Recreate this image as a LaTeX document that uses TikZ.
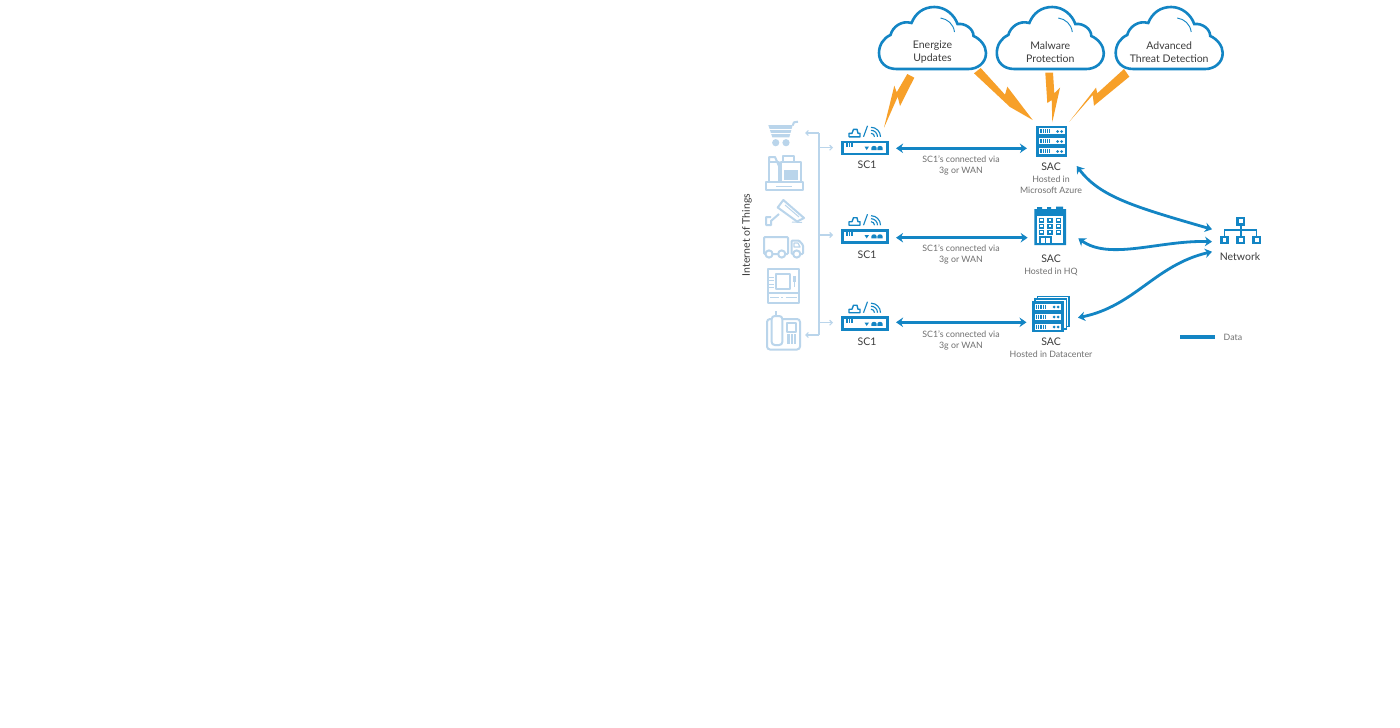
\documentclass[tikz,border=0pt]{standalone}
\usepackage{fontspec}
\setmainfont{Lato}
\usetikzlibrary{arrows.meta,calc}
\definecolor{scblue}{HTML}{1385C4}
\definecolor{iotblue}{HTML}{BAD5EB}
\definecolor{boltorange}{HTML}{F7A029}
\definecolor{labeldark}{HTML}{3C3C3C}
\definecolor{labelgrey}{HTML}{707070}
\tikzset{
	mainlabel/.style={text=labeldark, align=center, inner sep=0pt, font=\fontsize{10.5}{13.5}\selectfont},
	sublabel/.style={text=labelgrey, align=center, inner sep=0pt, font=\fontsize{8.8}{11}\selectfont},
	bolt/.style={fill=boltorange, draw=none},
	datalink/.style={draw=scblue, line width=2.8pt, {Stealth[length=7pt,width=9.5pt]}-{Stealth[length=7pt,width=9.5pt]}},
	iotline/.style={draw=iotblue, line width=2pt, line join=round},
	iotlink/.style={draw=iotblue, line width=1.2pt, -{Straight Barb[length=2.5pt,width=5pt]}},
	pics/cloudicon/.style={code={
		\draw[scblue, line width=2.6pt, fill=white] (-36,31) .. controls (-47,31) and (-53.5,24) .. (-53.5,15)
			.. controls (-53.5,7) and (-49,0) .. (-42,-3) .. controls (-40,-11) and (-31,-18) .. (-21,-15)
			.. controls (-17,-25) and (-9,-31) .. (2,-31) .. controls (13,-31) and (22,-23) .. (25,-14)
			.. controls (33,-15) and (41,-9) .. (41,-2) .. controls (48,1) and (53.5,8) .. (53.5,15)
			.. controls (53.5,25) and (45,31) .. (36,31) -- cycle;
		\draw[scblue, line width=.9pt] (8,-20) .. controls (15,-19) and (21,-14) .. (22,-6);
	}},
	pics/routericon/.style={code={
		\node[draw=scblue, line width=2.6pt, minimum width=45.5pt, minimum height=12pt, inner sep=0pt] (-body) at (0,0) {};
		% antenna bars and status lights
		\foreach \barx in {-18,-15.5,-13} \draw[scblue, line width=1.1pt] (\barx,-6) -- (\barx,-.5);
		\fill[scblue] (-.5,-1.2) -- (4,-1.2) -- (1.7,2.2) -- cycle;
		\foreach \domex in {9,15} \fill[scblue] (\domex-2.7,2.2) -- (\domex-2.7,.3) arc (180:0:2.7pt and 2.2pt) -- (\domex+2.7,2.2) -- cycle;
		% small icons above the box
		\draw[scblue, line width=1.4pt, line join=round] (-16,-11) -- (-16,-14.5) -- (-13,-14.5) -- (-11.5,-18.5) -- (-8,-18.5) -- (-7,-14.5) -- (-5,-14.5) -- (-5,-11) -- cycle;
		\draw[scblue, line width=1.1pt] (-1.5,-11) -- (2.5,-22);
		\foreach \wifir in {3.5,6.5,9.5} \draw[scblue, line width=1.1pt] (6,{-\wifir-11}) arc (90:0:\wifir pt);
	}},
	pics/racklayer/.style={code={
		\fill[white] (-13,-3) rectangle (13,3);
		\foreach \slotx in {-11.5,-9.7,-7.9,-6.1,-4.3,-2.5} \draw[scblue, line width=.9pt] (\slotx,-2) -- (\slotx,2);
		\foreach \lightx in {6,10} \fill[scblue] (\lightx,.5) circle (1.5pt);
	}},
	pics/rackicon/.style={code={
		\fill[scblue] (-15.7,-15.5) rectangle (15.7,15.5);
		\foreach \rowy in {-10,0,10} \pic at (0,\rowy) {racklayer};
	}},
	netbox/.style={draw=scblue, line width=2.6pt, minimum size=6.3pt, inner sep=0pt}
}
\begin{document}
\begin{tikzpicture}[x=1pt, y=-1pt]
	\useasboundingbox[fill=white] (0,0) rectangle (1400,728);

	% clouds
	\foreach \cloudx/\cloudname/\cloudtext in {932.5/energize/{Energize\\Updates}, 1050.3/malware/{Malware\\Protection}, 1169.2/threat/{Advanced\\Threat Detection}} {
		\pic at (\cloudx,38) {cloudicon};
		\node[mainlabel] (\cloudname) at (\cloudx,52) {\cloudtext};
	}

	% bolts
	\fill[bolt] (907.3,74) -- (914.3,77.7) -- (900,106) -- (897.7,96.7) -- (884,127.7) -- (894.3,85.7) -- (896.7,92.3) -- cycle;
	\fill[bolt] (974,73.3) -- (1010,107) -- (1032.7,120) -- (1007.3,86.7) -- (1005,94.7) -- (980.7,68) -- cycle;
	\fill[bolt] (1045.3,72.7) -- (1053,72.7) -- (1054.3,93.3) -- (1060,87.7) -- (1052.3,122.3) -- (1051.7,100) -- (1047.3,103) -- cycle;
	\fill[bolt] (1124,69) -- (1129.3,76.7) -- (1094,105.7) -- (1092.7,95) -- (1069.3,121.7) -- (1096,87.7) -- (1097.3,93.3) -- cycle;

	% the three rows
	\foreach \rowname/\rowy/\labely in {a/147.8/165, b/236.2/255, c/323.7/342} {
		\pic (sc1\rowname) at (865,\rowy) {routericon};
		\node[mainlabel] (sc1label\rowname) at (867,\labely) {SC1};
	}
	\foreach \rowname/\texty in {a/165.5, b/254.5, c/340.5} {
		\node[sublabel] (via\rowname) at (961,\texty) {SC1’s connected via\\3g or WAN};
	}

	% servers
	\pic at (1051.5,141) {rackicon};
	\node[minimum width=31.4pt, minimum height=31pt, inner sep=0pt] (saca) at (1051.5,141) {};
	\node[mainlabel] (saclabela) at (1051,167) {SAC};
	\node[sublabel] (hosta) at (1051,184.5) {Hosted in\\Microsoft Azure};

	% building
	\node[minimum width=31.7pt, minimum height=36pt, inner sep=0pt] (sacb) at (1050.2,227) {};
	\fill[scblue] (1034.3,209) -- (1037,209) -- (1037,207) -- (1042,207) -- (1042,209) -- (1047,209) -- (1047,207) -- (1051,207) -- (1051,209) -- (1056,209) -- (1056,206.5) -- (1063,206.5) -- (1063,209) -- (1066,209) -- (1066,245) -- (1034.3,245) -- cycle;
	\fill[white] (1037,216) rectangle (1063.3,242.6);
	\foreach \winx in {1041.7,1050,1058.3} \foreach \winy in {220,226,232}
		\draw[scblue, line width=1.4pt] (\winx-2,\winy-1.8) rectangle (\winx+2,\winy+1.8);
	\draw[scblue, line width=1.4pt] (1040,243) -- (1040,237) -- (1051,237) -- (1051,243) (1045.5,237) -- (1045.5,243);
	\node[mainlabel] (saclabelb) at (1051,259) {SAC};
	\node[sublabel] (hostb) at (1051,271.5) {Hosted in HQ};

	% stacked servers
	\draw[scblue, line width=1.1pt, fill=white] (1037.5,296.7) rectangle (1069,326.5);
	\draw[scblue, line width=1.1pt, fill=white] (1035,299) rectangle (1066.5,329);
	\pic at (1048,316.5) {rackicon};
	\node[minimum width=31.4pt, minimum height=31pt, inner sep=0pt] (sacc) at (1048,316.5) {};
	\node[mainlabel] (saclabelc) at (1051,342) {SAC};
	\node[sublabel] (hostc) at (1051,354) {Hosted in Datacenter};

	% links between SC1 and SAC
	\foreach \rowname/\liftby/\gapend in {a/-.5/8.7, b/-1.5/6.5, c/1.4/5.6} {
		\draw[datalink, shorten <=7pt, shorten >=\gapend pt] ([yshift=\liftby pt]sc1\rowname-body.east) -- ([yshift=\liftby pt]sc1\rowname-body.east -| sac\rowname.west);
	}

	% network
	\node[netbox] (nettop) at (1240.8,221.2) {};
	\node[netbox] (netleft) at (1224.5,240) {};
	\node[netbox] (netmid) at (1240.8,240) {};
	\node[netbox] (netright) at (1256.7,240) {};
	\draw[scblue, line width=1.5pt] (nettop) -- (netmid) (netleft) -- ++(0,-10) -| (netright);
	\node[mainlabel] (netlabel) at (1240,256.8) {Network};
	\coordinate (netina) at (1212,229.3);
	\coordinate (netinb) at (1212,241.7);
	\coordinate (netinc) at (1212,251.7);
	\coordinate (sacouta) at (1076.7,166);
	\coordinate (sacoutb) at (1078.3,238.3);
	\coordinate (sacoutc) at (1078,317.7);
	\draw[datalink] (sacouta) .. controls (1100,197) and (1135,207) .. (netina);
	\draw[datalink] (sacoutb) .. controls (1110,261) and (1160,240) .. (netinb);
	\draw[datalink] (sacoutc) .. controls (1135,306) and (1155,265) .. (netinc);

	% legend
	\coordinate (legendstart) at (1180,336.7);
	\node[sublabel, anchor=west] (legendtext) at (1223.5,337.5) {Data};
	\draw[scblue, line width=3.6pt] (legendstart) -- ++(35,0);

	% internet of things
	\node[mainlabel, rotate=90] (iotlabel) at (747,235) {Internet of Things};
	\coordinate (iottop) at (819,133);
	\coordinate (iotbottom) at (819,335);
	\coordinate (iotcart) at (805,133);
	\coordinate (iotphone) at (805,335);
	\draw[iotblue, line width=1.2pt] (iottop) -- (iotbottom);
	\draw[iotlink] (iottop) -- (iotcart);
	\draw[iotlink] (iotbottom) -- (iotphone);
	\foreach \rowname/\stuby in {a/147.7, b/235, c/322.7} {
		\coordinate (iotstub\rowname) at (819,\stuby);
		\draw[iotlink] (iotstub\rowname) -- (833,\stuby);
	}

	% cart
	\fill[iotblue] (768.3,125) -- (792.7,125) -- (789.3,137.3) -- (772.3,137.3) -- cycle;
	\draw[white, line width=1pt] (769,129) -- (792,129) (770,133) -- (791,133);
	\draw[iotline] (792.7,125.5) -- (794,122.3) -- (798,121.7);
	\fill[iotblue] (775.7,142.7) circle (3.6pt) (786,142.7) circle (3.6pt);
	% register
	\draw[iotline] (765.5,181.5) rectangle (803,190);
	\draw[iotline] (769,181) -- (769,162) -- (779,162) -- (779,181);
	\draw[iotline] (769,162) -- (769,157) -- (775,157) -- (779,166);
	\draw[iotline] (781,181) -- (781,162) -- (801,162) -- (801,181);
	\draw[iotline] (783,162) -- (783,155.5) -- (794,155.5) -- (794,162);
	\fill[iotblue] (783.5,170) rectangle (798,180);
	\draw[iotline, line width=1pt] (776,186) -- (792,186);
	% camera
	\draw[iotline] (783.3,200) -- (804,218) -- (797,221.5) -- (777.7,207.5) -- cycle;
	\draw[iotline, line width=1pt] (785,205) -- (799,217);
	\draw[iotline] (771,217) -- (766,217) -- (766,225) -- (771,225) -- (771,221) -- (779,214);
	\draw[iotline, line width=1pt] (792,222) -- (802,222.5);
	% truck
	\draw[iotline, rounded corners=1pt] (764,254) -- (764,237) -- (788,237) -- (788,254) -- cycle;
	\draw[iotline, rounded corners=1pt] (791.5,254) -- (791.5,240.5) -- (799,240.5) -- (803,245) -- (803,254) -- cycle;
	\draw[iotline, line width=1.2pt] (794,243) -- (798,243) -- (800,247) -- (794,247) -- cycle;
	\foreach \wheelx in {769,781.7,796.7} \draw[iotline, fill=white] (\wheelx,254) circle (3.6pt);
	% atm
	\draw[iotline] (767.7,269.3) rectangle (799,302.7);
	\draw[iotline] (775.7,274) rectangle (790,289.3);
	\fill[iotblue] (792.5,276) rectangle (796,282);
	\draw[iotline, line width=1pt] (794,282) -- (794,287);
	\foreach \bary in {277,280.5,284,287.5} \draw[iotline, line width=1pt] (769,\bary) -- (773.5,\bary);
	\draw[iotline, line width=1.2pt] (768,293) -- (799,293);
	\draw[iotline, line width=1.6pt] (770,297.5) -- (779,297.5) (781,297.5) -- (783,297.5) (785.5,297.5) -- (797,297.5);
	% phone
	\draw[iotline, rounded corners=3pt] (772,319) -- (767,319) -- (767,349.5) -- (800,349.5) -- (800,319) -- (782,319);
	\draw[iotline, rounded corners=3pt] (771.7,316) rectangle (782.3,345);
	\draw[iotline] (775.7,311) -- (775.7,316);
	\draw[iotline] (787.3,322.7) rectangle (795.7,331.7);
	\fill[iotblue] (787,334) rectangle (796,343.5);
	\draw[white, line width=.6pt] (790,334) -- (790,343.5) (793,334) -- (793,343.5);
\end{tikzpicture}
\end{document}
